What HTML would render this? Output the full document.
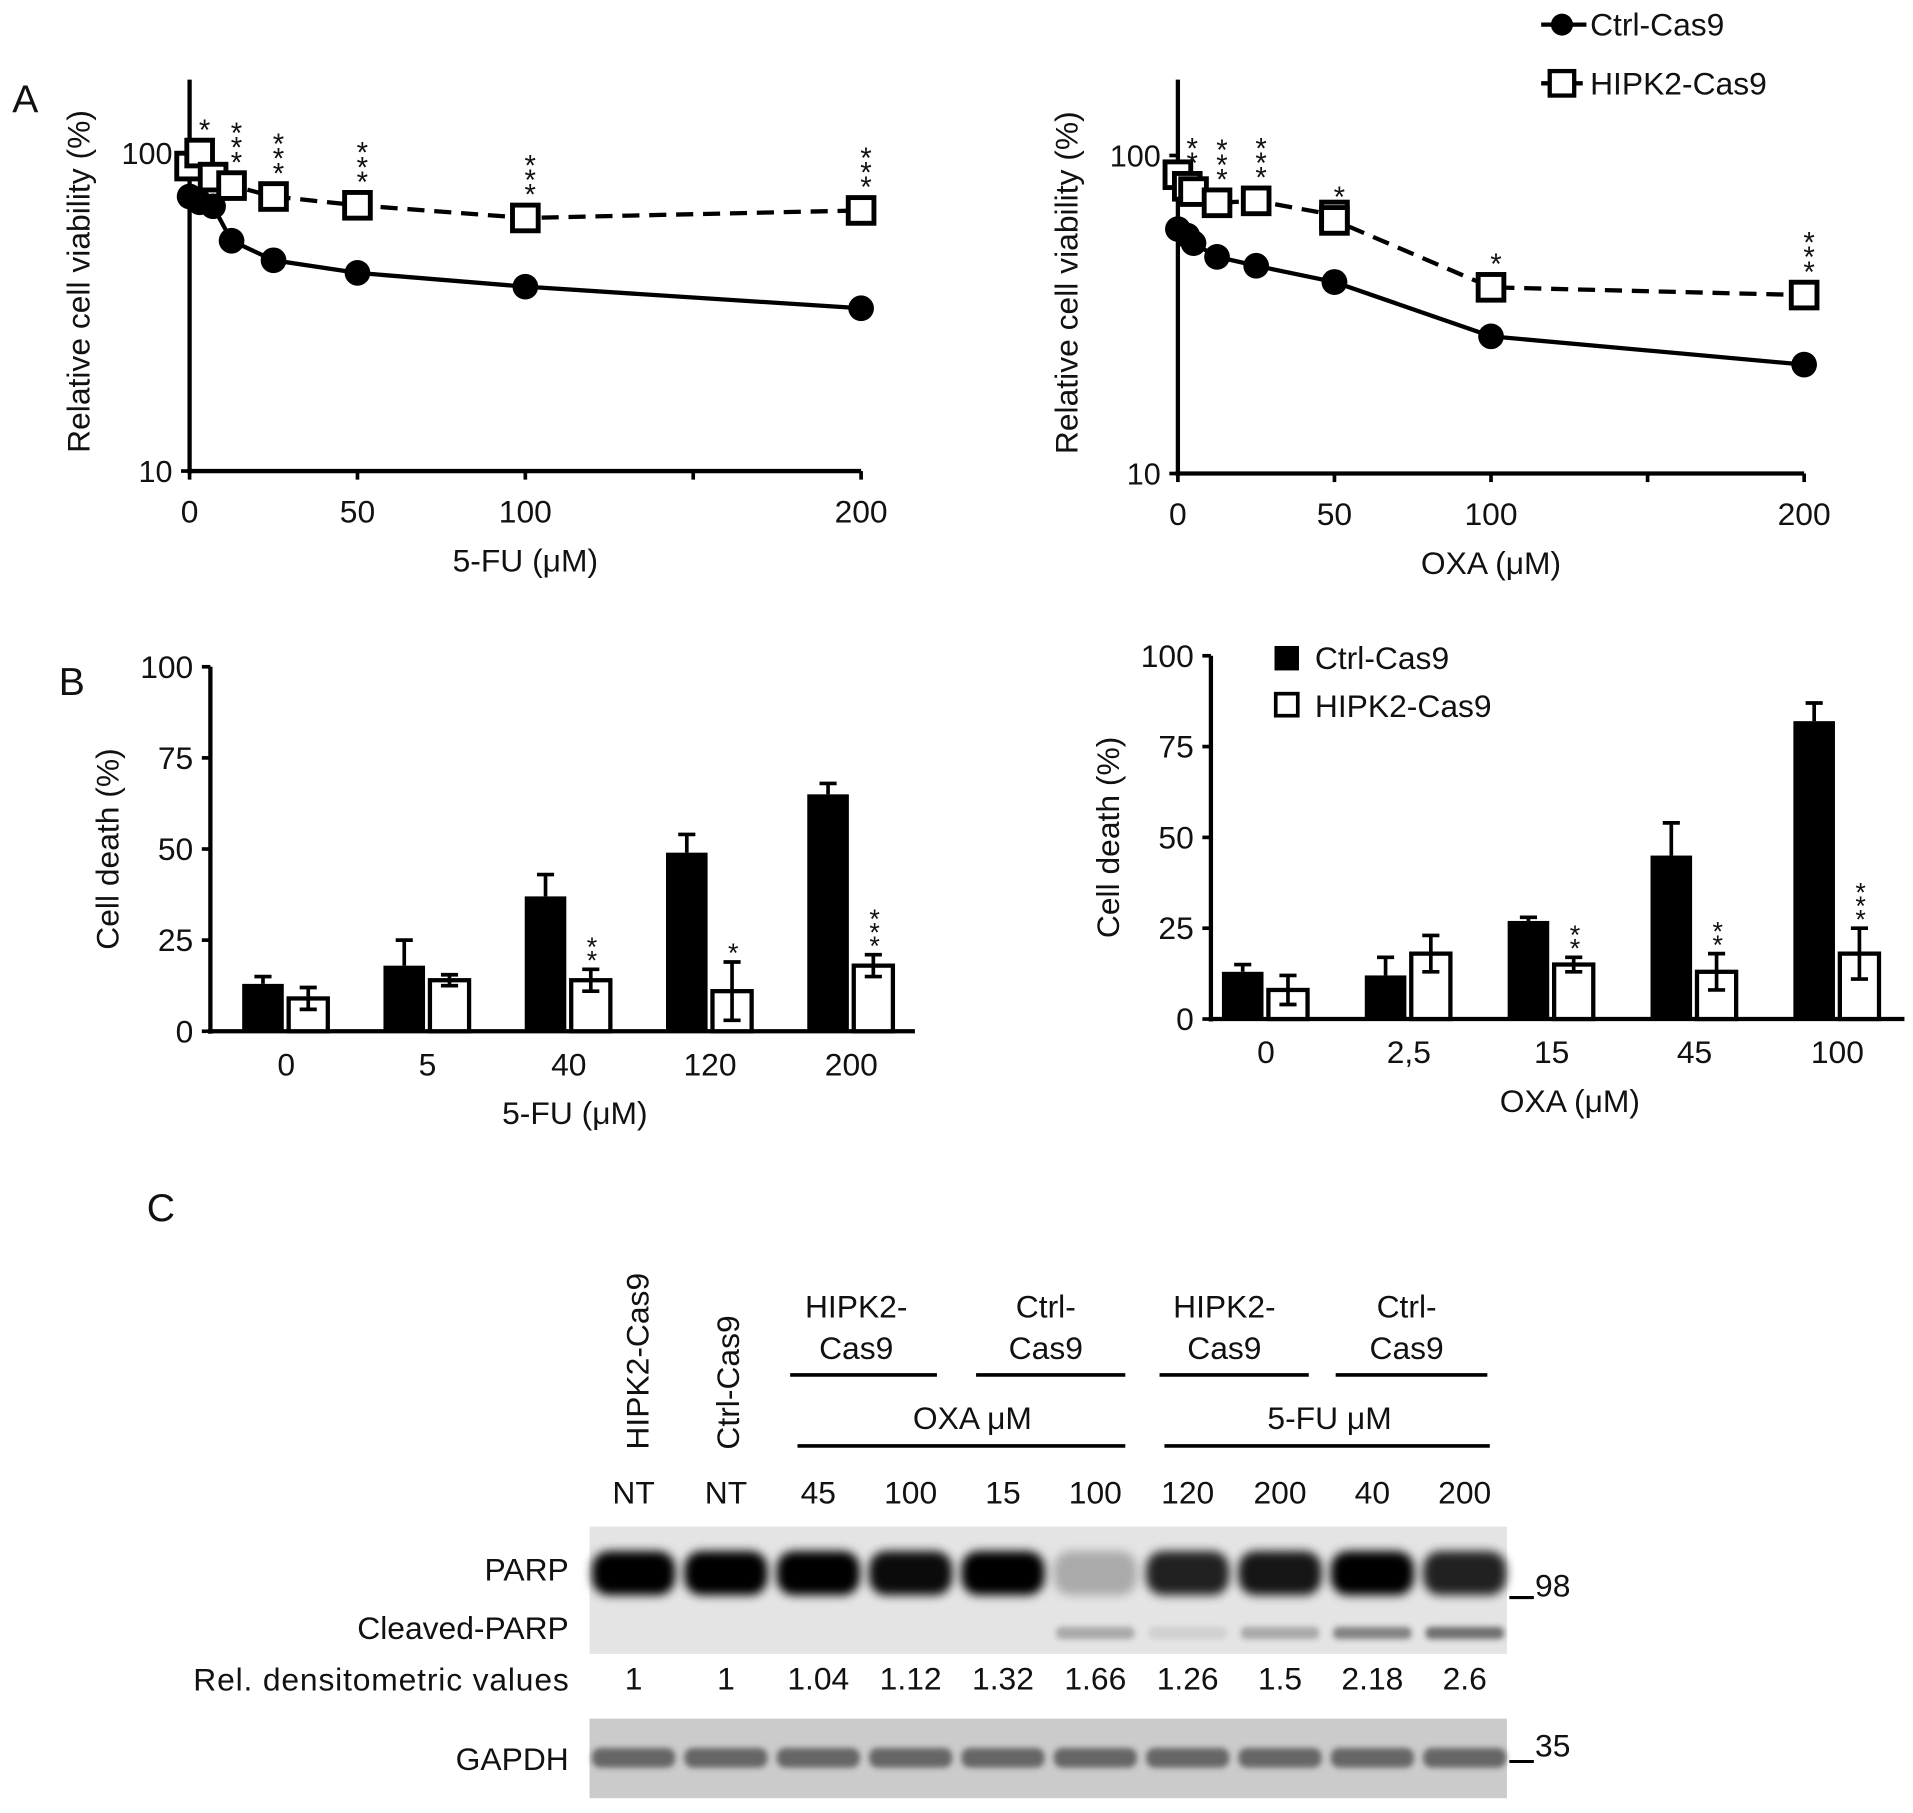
<!DOCTYPE html>
<html><head><meta charset="utf-8"><style>
html,body{margin:0;padding:0;background:#fff}
svg{display:block}
text{font-family:"Liberation Sans",Arial,sans-serif;fill:#111}
</style></head><body>
<svg id="fig" width="1913" height="1813" viewBox="0 0 1564 1482" xmlns="http://www.w3.org/2000/svg">
<defs><filter id="blur" x="-20%" y="-50%" width="140%" height="200%"><feGaussianBlur stdDeviation="4"/></filter>
<filter id="blur2" x="-20%" y="-50%" width="140%" height="200%"><feGaussianBlur stdDeviation="2.5"/></filter></defs>
<text x="10" y="92" font-size="32">A</text>
<text x="48" y="568" font-size="32">B</text>
<text x="120" y="998" font-size="32">C</text>
<g>
<line x1="1260" y1="20" x2="1297" y2="20" stroke="#000" stroke-width="3.5"/>
<circle cx="1277" cy="20" r="9" fill="#000"/>
<text x="1300" y="29" font-size="26">Ctrl-Cas9</text>
<line x1="1260" y1="68" x2="1297" y2="68" stroke="#000" stroke-width="3.5" stroke-dasharray="8,5"/>
<rect x="1267" y="58" width="20" height="20" fill="#fff" stroke="#000" stroke-width="3.5"/>
<text x="1300" y="77" font-size="26">HIPK2-Cas9</text>
</g>
<g id="lineL"></g>
<g id="lineR"></g>
<g id="barL"></g>
<g id="barR"></g>
<g>
<rect x="1042" y="528" width="20" height="20" fill="#000"/>
<text x="1075" y="547" font-size="26">Ctrl-Cas9</text>
<rect x="1043" y="567" width="18" height="18" fill="#fff" stroke="#000" stroke-width="3"/>
<text x="1075" y="586" font-size="26">HIPK2-Cas9</text>
</g>
<g id="blot"></g>
</svg>
<script>
const NS="http://www.w3.org/2000/svg";
function el(p,t,a,txt){const e=document.createElementNS(NS,t);for(const k in a)e.setAttribute(k,a[k]);if(txt!==undefined)e.textContent=txt;p.appendChild(e);return e;}

const doseFU=[0,3,7,12.5,25,50,100,200];
const ctrlFU=[73,70,68,53,46,42,38,32.5];
const hipkFU=[91,100,84,79,73,68.5,62.5,66];
const starsFU=["","*","","***","***","***","***","***"];
const doseOX=[0,3,5,12.5,25,50,50,100,200];
const ctrlOX=[58.7,56,53,48,45,40,40,27,22];
const hipkOX=[87,80,77,71,72,65,62.5,38.5,36.4];
const starsOX=["","**","","***","***","","*","*","***"];
const xTicksLine=[0,50,100,200];

function stack(g,x,yBottom,n,size,gap){for(let k=0;k<n;k++)el(g,"text",{x:x,y:yBottom-k*gap+size*0.55,"font-size":size,"text-anchor":"middle"},"*");}

function lineChart(g,o,dose,ctrl,hipk,stars,xlabel){
  const X=v=>o.x0+(o.x1-o.x0)*v/200;
  const Y=v=>o.yb-o.dec*(Math.log10(v)-1);
  el(g,"line",{x1:o.x0,y1:65,x2:o.x0,y2:o.yb+2,stroke:"#000","stroke-width":3.5});
  el(g,"line",{x1:o.x0-2,y1:o.yb,x2:o.x1,y2:o.yb,stroke:"#000","stroke-width":3.5});
  for(const v of [10,100]){el(g,"line",{x1:o.x0-7,y1:Y(v),x2:o.x0,y2:Y(v),stroke:"#000","stroke-width":3});
    el(g,"text",{x:o.x0-14,y:Y(v)+9,"font-size":25,"text-anchor":"end"},v);}
  for(const v of [0,50,100,150,200]){el(g,"line",{x1:X(v),y1:o.yb,x2:X(v),y2:o.yb+7,stroke:"#000","stroke-width":3});}
  for(const v of xTicksLine){el(g,"text",{x:X(v),y:o.yb+42,"font-size":26,"text-anchor":"middle"},v);}
  el(g,"text",{x:(o.x0+o.x1)/2,y:o.yb+82,"font-size":26,"text-anchor":"middle"},xlabel);
  el(g,"text",{transform:`translate(${o.x0-82},${(65+o.yb)/2+5}) rotate(-90)`,"font-size":26,"text-anchor":"middle"},"Relative cell viability (%)");
  el(g,"polyline",{points:dose.map((d,i)=>X(d)+","+Y(hipk[i])).join(" "),fill:"none",stroke:"#000","stroke-width":3.5,"stroke-dasharray":"14,8"});
  el(g,"polyline",{points:dose.map((d,i)=>X(d)+","+Y(ctrl[i])).join(" "),fill:"none",stroke:"#000","stroke-width":3.5});
  dose.forEach((d,i)=>{const c=el(g,"circle",{cx:X(d),cy:Y(ctrl[i]),r:10.5,fill:"#000"});
    
    });
  dose.forEach((d,i)=>{const r=el(g,"rect",{x:X(d)-10.5,y:Y(hipk[i])-10.5,width:21,height:21,fill:"#fff",stroke:"#000","stroke-width":4});
    
    
    stack(g,X(d)+4,Y(hipk[i])-24,stars[i].length,24,12);});
}
lineChart(document.getElementById("lineL"),{x0:155,x1:704,yb:385,dec:260},doseFU,ctrlFU,hipkFU,starsFU,"5-FU (μM)");
lineChart(document.getElementById("lineR"),{x0:963,x1:1475,yb:387,dec:260},doseOX,ctrlOX,hipkOX,starsOX,"OXA (μM)");

const catFU=["0","5","40","120","200"];
const ctrlDFU=[13,18,37,49,65];
const ctrlEFU=[2,7,6,5,3];
const hipkDFU=[9,14,14,11,18];
const hipkEFU=[3,1.5,3,8,3];
const sigFU=["","","**","*","***"];
const catOX=["0","2,5","15","45","100"];
const ctrlDOX=[13,12,27,45,82];
const ctrlEOX=[2,5,1,9,5];
const hipkDOX=[8,18,15,13,18];
const hipkEOX=[4,5,2,5,7];
const sigOX=["","","**","**","***"];
const yTicksBar=[0,25,50,75,100];

function barChart(g,o,cats,c,ce,h,he,sig,xlabel){
  const Y=v=>o.y0-(o.y0-o.y100)*v/100;
  const CX=i=>o.c0+i*o.step;
  el(g,"line",{x1:o.x0,y1:o.y100,x2:o.x0,y2:o.y0+2,stroke:"#000","stroke-width":3.5});
  el(g,"line",{x1:o.x0-2,y1:o.y0,x2:o.x1,y2:o.y0,stroke:"#000","stroke-width":3.5});
  for(const v of yTicksBar){el(g,"line",{x1:o.x0-7,y1:Y(v),x2:o.x0,y2:Y(v),stroke:"#000","stroke-width":3});
    el(g,"text",{x:o.x0-14,y:Y(v)+9,"font-size":26,"text-anchor":"end"},v);}
  el(g,"text",{transform:`translate(${o.x0-75},${(o.y0+o.y100)/2}) rotate(-90)`,"font-size":26,"text-anchor":"middle"},"Cell death (%)");
  cats.forEach((k,i)=>{
    const cx=CX(i);
    el(g,"text",{x:cx,y:o.y0+36,"font-size":26,"text-anchor":"middle"},k);
    el(g,"line",{x1:cx-19,y1:Y(c[i]),x2:cx-19,y2:Y(c[i]+ce[i]),stroke:"#000","stroke-width":3});
    el(g,"line",{x1:cx-26,y1:Y(c[i]+ce[i]),x2:cx-12,y2:Y(c[i]+ce[i]),stroke:"#000","stroke-width":3});
    const b=el(g,"rect",{x:cx-36,y:Y(c[i]),width:34,height:Y(0)-Y(c[i]),fill:"#000"});
    
    
    const w=el(g,"rect",{x:cx+2,y:Y(h[i]),width:32,height:Y(0)-Y(h[i]),fill:"#fff",stroke:"#000","stroke-width":3.5});
    
    
    el(g,"line",{x1:cx+18,y1:Y(h[i]-he[i]),x2:cx+18,y2:Y(h[i]+he[i]),stroke:"#000","stroke-width":3});
    for(const v of [h[i]-he[i],h[i]+he[i]])el(g,"line",{x1:cx+11,y1:Y(v),x2:cx+25,y2:Y(v),stroke:"#000","stroke-width":3});
    stack(g,cx+19,Y(h[i]+he[i])-12,sig[i].length,22,11);
  });
  el(g,"text",{x:(o.x0+o.x1)/2+10,y:o.y0+76,"font-size":26,"text-anchor":"middle"},xlabel);
}
barChart(document.getElementById("barL"),{x0:172,x1:748,y0:843,y100:545,c0:234,step:115.5},catFU,ctrlDFU,ctrlEFU,hipkDFU,hipkEFU,sigFU,"5-FU (μM)");
barChart(document.getElementById("barR"),{x0:990,x1:1557,y0:833,y100:536,c0:1035,step:116.8},catOX,ctrlDOX,ctrlEOX,hipkDOX,hipkEOX,sigOX,"OXA (μM)");

const lanes=["NT","NT","45","100","15","100","120","200","40","200"];
const densVals=["1","1","1.04","1.12","1.32","1.66","1.26","1.5","2.18","2.6"];
const parpInt=[1,1,1,0.95,1,0.25,0.85,0.9,1,0.85];
const clvInt=[0,0,0,0,0,0.3,0.1,0.3,0.5,0.6];
const g=document.getElementById("blot");
const LX=i=>518+i*75.5;
el(g,"rect",{x:482,y:1248,width:750,height:104,fill:"#e4e4e4"});
el(g,"rect",{x:482,y:1405,width:750,height:65,fill:"#cbcbcb"});
lanes.forEach((l,i)=>{
  el(g,"rect",{x:LX(i)-34,y:1268,width:68,height:36,rx:14,fill:"#000",opacity:parpInt[i],filter:"url(#blur)"});
  if(clvInt[i]>0)el(g,"rect",{x:LX(i)-32,y:1330,width:64,height:10,rx:4,fill:"#222",opacity:clvInt[i],filter:"url(#blur2)"});
  el(g,"text",{x:LX(i),y:1229,"font-size":26,"text-anchor":"middle"},l);
  el(g,"text",{x:LX(i),y:1381,"font-size":26,"text-anchor":"middle"},densVals[i]);
  el(g,"rect",{x:LX(i)-34,y:1429,width:68,height:16,rx:7,fill:"#444",opacity:0.75,filter:"url(#blur2)"});
});
el(g,"line",{x1:1234,y1:1306,x2:1254,y2:1306,stroke:"#000","stroke-width":2.5});
el(g,"text",{x:1255,y:1305,"font-size":26},"98");
el(g,"line",{x1:1234,y1:1440,x2:1254,y2:1440,stroke:"#000","stroke-width":2.5});
el(g,"text",{x:1255,y:1436,"font-size":26},"35");
el(g,"text",{x:465,y:1292,"font-size":26,"text-anchor":"end"},"PARP");
el(g,"text",{x:465,y:1340,"font-size":26,"text-anchor":"end"},"Cleaved-PARP");
el(g,"text",{x:465,y:1382,"font-size":26,"text-anchor":"end",textLength:307},"Rel. densitometric values");
el(g,"text",{x:465,y:1447,"font-size":26,"text-anchor":"end"},"GAPDH");
el(g,"text",{transform:"translate(530,1185) rotate(-90)","font-size":26},"HIPK2-Cas9");
el(g,"text",{transform:"translate(604,1185) rotate(-90)","font-size":26},"Ctrl-Cas9");
[["HIPK2-",700,1077],["Cas9",700,1111],["Ctrl-",855,1077],["Cas9",855,1111],["HIPK2-",1001,1077],["Cas9",1001,1111],["Ctrl-",1150,1077],["Cas9",1150,1111],["OXA μM",795,1168],["5-FU μM",1087,1168]].forEach(t=>el(g,"text",{x:t[1],y:t[2],"font-size":26,"text-anchor":"middle"},t[0]));
[[646,766,1124],[798,920,1124],[948,1070,1124],[1092,1216,1124],[652,920,1182],[952,1218,1182]].forEach(l=>el(g,"line",{x1:l[0],y1:l[2],x2:l[1],y2:l[2],stroke:"#000","stroke-width":3}));
</script>
</body></html>
